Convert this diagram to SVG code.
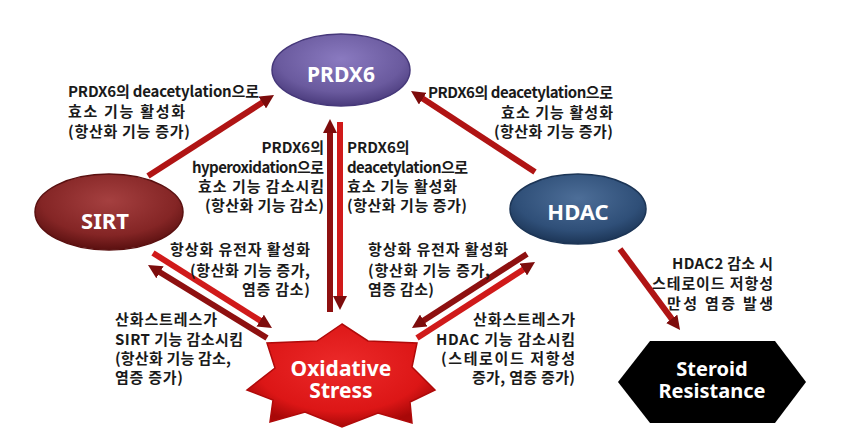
<svg xmlns="http://www.w3.org/2000/svg" width="866" height="442" viewBox="0 0 866 442">
<style>
.lbl{font-family:"Noto Sans CJK KR","Noto Sans",sans-serif;font-weight:bold;font-size:15px;fill:#1a1a1a}
.s{text-anchor:start}
.e{text-anchor:end}
.node{font-family:"Noto Sans","Liberation Sans",sans-serif;font-weight:bold;fill:#ffffff;text-anchor:middle}
.a-dark{stroke:#8e1010;stroke-width:6;fill:none}
.a-bright{stroke:#d01a1a;stroke-width:6;fill:none}
.a-mid{stroke:#b01414;stroke-width:6;fill:none}
</style>
<defs>
<marker id="ah" viewBox="0 0 14 14" markerWidth="14" markerHeight="14" refX="1" refY="7" orient="auto" markerUnits="userSpaceOnUse">
<path d="M0,0 L14,7 L0,14 z" fill="#7d0c0c"/>
</marker>
<radialGradient id="gP" cx="50%" cy="35%" r="65%">
<stop offset="0" stop-color="#8a7ac0"/><stop offset="0.7" stop-color="#6a5a9e"/><stop offset="1" stop-color="#4a3b7c"/>
</radialGradient>
<radialGradient id="gS" cx="50%" cy="35%" r="65%">
<stop offset="0" stop-color="#a54040"/><stop offset="0.7" stop-color="#842525"/><stop offset="1" stop-color="#5a1010"/>
</radialGradient>
<radialGradient id="gH" cx="50%" cy="35%" r="65%">
<stop offset="0" stop-color="#4d6e98"/><stop offset="0.7" stop-color="#2f4f78"/><stop offset="1" stop-color="#1c3556"/>
</radialGradient>
<radialGradient id="gO" cx="50%" cy="40%" r="60%">
<stop offset="0" stop-color="#ec2a2a"/><stop offset="0.75" stop-color="#dc1616"/><stop offset="1" stop-color="#a80808"/>
</radialGradient>
</defs>
<rect width="866" height="442" fill="#ffffff"/>

<g id="connectors">
<path class="a-mid" d="M148,176 L263.1,102" marker-end="url(#ah)"/>
<path class="a-mid" d="M535,172 L421.9,98.1" marker-end="url(#ah)"/>
<path class="a-dark" d="M330,312 L330,132" marker-end="url(#ah)"/>
<path class="a-bright" d="M340,122 L340,297" marker-end="url(#ah)"/>
<path class="a-bright" d="M153,253 L261,321.1" marker-end="url(#ah)"/>
<path class="a-dark" d="M267,338 L159.1,271.8" marker-end="url(#ah)"/>
<path class="a-dark" d="M527,254 L422.9,321" marker-end="url(#ah)"/>
<path class="a-bright" d="M417,338 L524.1,269" marker-end="url(#ah)"/>
<path class="a-mid" d="M620,249 L672.3,319.6" marker-end="url(#ah)"/>
</g>

<g id="prdx6">
<ellipse cx="341" cy="70" rx="69" ry="36" fill="url(#gP)" stroke="#46387a" stroke-width="1.5"/>
<text class="node" x="341" y="82" font-size="21">PRDX6</text>
</g>
<g id="sirt">
<ellipse cx="109" cy="212" rx="74" ry="38" fill="url(#gS)" stroke="#5a1010" stroke-width="1.5"/>
<text class="node" x="105" y="229" font-size="22">SIRT</text>
</g>
<g id="hdac">
<ellipse cx="578" cy="209" rx="68" ry="35" fill="url(#gH)" stroke="#1c3556" stroke-width="1.5"/>
<text class="node" x="578" y="220" font-size="22">HDAC</text>
</g>
<g id="oxidative-stress">
<polygon points="342,324 317,341 267,343 275,368 247,390 273,400 270,422 305,412 342,427 378,413 412,423 410,402 435,390 412,367 417,343 368,341" fill="url(#gO)" stroke="#b00a0a" stroke-width="1.5" stroke-linejoin="miter"/>
<text class="node" x="341" y="376" font-size="21">Oxidative</text>
<text class="node" x="341" y="398" font-size="21">Stress</text>
</g>
<g id="steroid-resistance">
<polygon points="618,382 650,341 775,341 806,382 775,423 650,423" fill="#000000"/>
<text class="node" x="712" y="376" font-size="20">Steroid</text>
<text class="node" x="712" y="398" font-size="20">Resistance</text>
</g>

<g id="labels">
<text class="lbl s" x="68" y="97" textLength="191" lengthAdjust="spacing">PRDX6의 deacetylation으로</text>
<text class="lbl s" x="68" y="117" textLength="117" lengthAdjust="spacing">효소 기능 활성화</text>
<text class="lbl s" x="68" y="137" textLength="122" lengthAdjust="spacing">(항산화 기능 증가)</text>

<text class="lbl e" x="613" y="98" textLength="185" lengthAdjust="spacing">PRDX6의 deacetylation으로</text>
<text class="lbl e" x="613" y="118" textLength="112" lengthAdjust="spacing">효소 기능 활성화</text>
<text class="lbl e" x="613" y="137" textLength="119" lengthAdjust="spacing">(항산화 기능 증가)</text>

<text class="lbl e" x="324" y="153">PRDX6의</text>
<text class="lbl e" x="324" y="173" textLength="132" lengthAdjust="spacing">hyperoxidation으로</text>
<text class="lbl e" x="324" y="192" textLength="126" lengthAdjust="spacing">효소 기능 감소시킴</text>
<text class="lbl e" x="324" y="211" textLength="119" lengthAdjust="spacing">(항산화 기능 감소)</text>

<text class="lbl s" x="347" y="153">PRDX6의</text>
<text class="lbl s" x="347" y="173" textLength="121" lengthAdjust="spacing">deacetylation으로</text>
<text class="lbl s" x="347" y="192" textLength="110" lengthAdjust="spacing">효소 기능 활성화</text>
<text class="lbl s" x="347" y="211" textLength="120" lengthAdjust="spacing">(항산화 기능 증가)</text>

<text class="lbl e" x="310" y="255" textLength="140" lengthAdjust="spacing">항상화 유전자 활성화</text>
<text class="lbl e" x="310" y="276" textLength="120" lengthAdjust="spacing">(항산화 기능 증가,</text>
<text class="lbl e" x="310" y="295" textLength="68" lengthAdjust="spacing">염증 감소)</text>

<text class="lbl s" x="368" y="255" textLength="140" lengthAdjust="spacing">항상화 유전자 활성화</text>
<text class="lbl s" x="368" y="276" textLength="122" lengthAdjust="spacing">(항산화 기능 증가,</text>
<text class="lbl s" x="368" y="295" textLength="66" lengthAdjust="spacing">염증 감소)</text>

<text class="lbl s" x="115" y="325" textLength="102" lengthAdjust="spacing">산화스트레스가</text>
<text class="lbl s" x="115" y="345" textLength="128" lengthAdjust="spacing">SIRT 기능 감소시킴</text>
<text class="lbl s" x="115" y="364" textLength="116" lengthAdjust="spacing">(항산화 기능 감소,</text>
<text class="lbl s" x="115" y="383" textLength="68" lengthAdjust="spacing">염증 증가)</text>

<text class="lbl e" x="575" y="325" textLength="102" lengthAdjust="spacing">산화스트레스가</text>
<text class="lbl e" x="575" y="345" textLength="139" lengthAdjust="spacing">HDAC 기능 감소시킴</text>
<text class="lbl e" x="575" y="364" textLength="134" lengthAdjust="spacing">(스테로이드 저항성</text>
<text class="lbl e" x="575" y="383" textLength="103" lengthAdjust="spacing">증가, 염증 증가)</text>

<text class="lbl e" x="773" y="269" textLength="101" lengthAdjust="spacing">HDAC2 감소 시</text>
<text class="lbl e" x="773" y="289" textLength="121" lengthAdjust="spacing">스테로이드 저항성</text>
<text class="lbl e" x="773" y="309" textLength="106" lengthAdjust="spacing">만성 염증 발생</text>
</g>
</svg>
